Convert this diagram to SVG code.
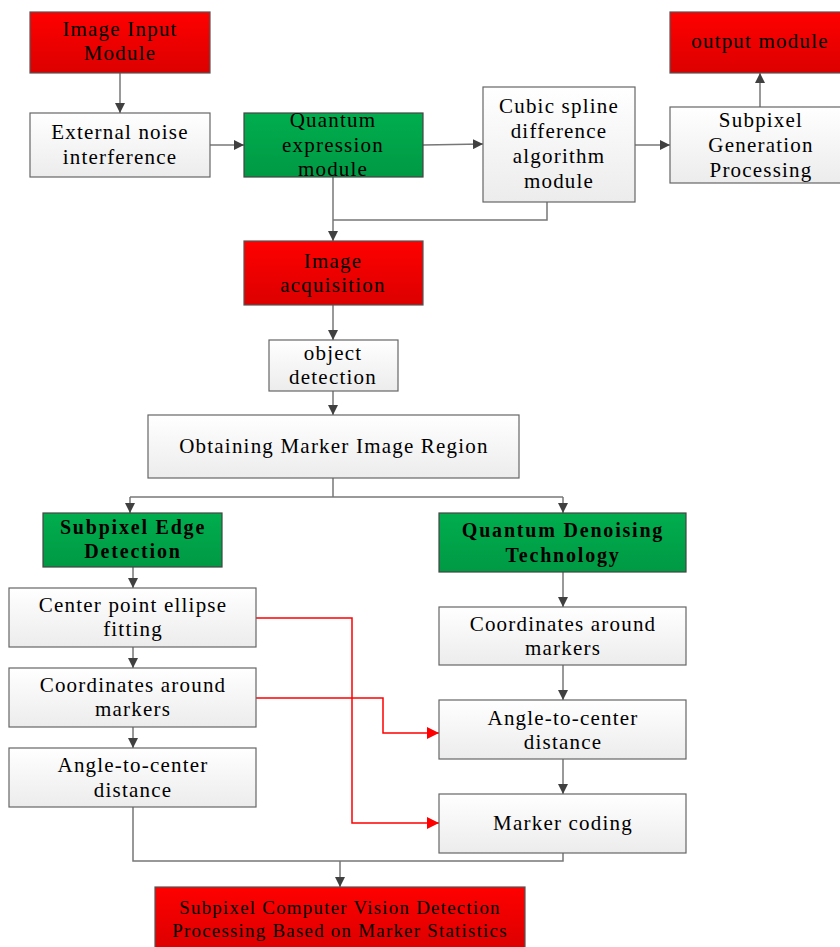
<svg xmlns="http://www.w3.org/2000/svg" width="840" height="947" viewBox="0 0 840 947">
<defs>
<linearGradient id="gRed" x1="0" y1="0" x2="0" y2="1"><stop offset="0" stop-color="#ff0000"/><stop offset="1" stop-color="#dc0000"/></linearGradient>
<linearGradient id="gGreen" x1="0" y1="0" x2="0" y2="1"><stop offset="0" stop-color="#00ae4e"/><stop offset="1" stop-color="#009944"/></linearGradient>
<linearGradient id="gGray" x1="0" y1="0" x2="0" y2="1"><stop offset="0" stop-color="#ffffff"/><stop offset="1" stop-color="#ececec"/></linearGradient>
<marker id="ah" viewBox="0 0 10 10" refX="10" refY="5" markerWidth="10" markerHeight="10" markerUnits="userSpaceOnUse" orient="auto"><path d="M0,0 L10,5 L0,10 z" fill="#404040"/></marker>
<marker id="ahr" viewBox="0 0 10 10" refX="10" refY="5" markerWidth="12" markerHeight="12" markerUnits="userSpaceOnUse" orient="auto"><path d="M0,0 L10,5 L0,10 z" fill="#ff0000"/></marker>
</defs>
<style>
.red{fill:url(#gRed);stroke:#555;stroke-width:1.2}
.green{fill:url(#gGreen);stroke:#444;stroke-width:1.2}
.gray{fill:url(#gGray);stroke:#666;stroke-width:1.2}
text{font-family:"Liberation Serif","Times New Roman",serif;font-size:21px;letter-spacing:1.2px;fill:#000;text-anchor:middle}
.b{font-weight:bold;font-size:20px;letter-spacing:1.8px}
.s{font-size:19px;letter-spacing:1.2px}
.c{fill:none;stroke:#777;stroke-width:1.5}
.cr{fill:none;stroke:#ff0000;stroke-width:1.5}
</style>
<g id="connectors">
<path class="c" d="M120,73 V113" marker-end="url(#ah)"/>
<path class="c" d="M210,145 H244" marker-end="url(#ah)"/>
<path class="c" d="M423,145 L483,144" marker-end="url(#ah)"/>
<path class="c" d="M635,145 H670" marker-end="url(#ah)"/>
<path class="c" d="M760,107 V73" marker-end="url(#ah)"/>
<path class="c" d="M333,177 V241" marker-end="url(#ah)"/>
<path class="c" d="M547,202 V220 H333"/>
<path class="c" d="M333,305 V340" marker-end="url(#ah)"/>
<path class="c" d="M333,391 V415" marker-end="url(#ah)"/>
<path class="c" d="M333,478 V497"/>
<path class="c" d="M130,497 H563"/>
<path class="c" d="M130,497 V513" marker-end="url(#ah)"/>
<path class="c" d="M563,497 V513" marker-end="url(#ah)"/>
<path class="c" d="M133,567 V588" marker-end="url(#ah)"/>
<path class="c" d="M133,647 V668" marker-end="url(#ah)"/>
<path class="c" d="M133,727 V748" marker-end="url(#ah)"/>
<path class="c" d="M563,572 V607" marker-end="url(#ah)"/>
<path class="c" d="M563,665 V700" marker-end="url(#ah)"/>
<path class="c" d="M563,759 V794" marker-end="url(#ah)"/>
<path class="c" d="M133,807 V861 H563 V853"/>
<path class="c" d="M340,861 V887" marker-end="url(#ah)"/>
<path class="cr" d="M256,618 H352 V823 H439" marker-end="url(#ahr)"/>
<path class="cr" d="M256,698 H383 V733 H439" marker-end="url(#ahr)"/>
</g>
<g id="n-input"><rect class="red" x="30" y="12" width="180" height="61"/><text x="120" y="36">Image Input</text><text x="120" y="60">Module</text></g>
<g id="n-noise"><rect class="gray" x="30" y="113" width="180" height="64"/><text x="120" y="139">External noise</text><text x="120" y="164">interference</text></g>
<g id="n-quantum"><rect class="green" x="244" y="113" width="179" height="64"/><text x="333" y="127">Quantum</text><text x="333" y="152">expression</text><text x="333" y="176">module</text></g>
<g id="n-cubic"><rect class="gray" x="483" y="87" width="152" height="115"/><text x="559" y="113">Cubic spline</text><text x="559" y="138">difference</text><text x="559" y="163">algorithm</text><text x="559" y="188">module</text></g>
<g id="n-subgen"><rect class="gray" x="670" y="107" width="172" height="76"/><text x="761" y="127">Subpixel</text><text x="761" y="152">Generation</text><text x="761" y="177">Processing</text></g>
<g id="n-output"><rect class="red" x="670" y="12" width="172" height="61"/><text x="760" y="48">output module</text></g>
<g id="n-acq"><rect class="red" x="244" y="241" width="179" height="64"/><text x="333" y="268">Image</text><text x="333" y="292">acquisition</text></g>
<g id="n-obj"><rect class="gray" x="269" y="340" width="129" height="51"/><text x="333" y="360">object</text><text x="333" y="384">detection</text></g>
<g id="n-region"><rect class="gray" x="148" y="415" width="371" height="63"/><text x="334" y="453">Obtaining Marker Image Region</text></g>
<g id="n-edge"><rect class="green" x="43" y="513" width="179" height="54"/><text class="b" x="133" y="534">Subpixel Edge</text><text class="b" x="133" y="558">Detection</text></g>
<g id="n-denoise"><rect class="green" x="439" y="513" width="247" height="59"/><text class="b" x="563" y="537">Quantum Denoising</text><text class="b" x="563" y="562">Technology</text></g>
<g id="n-ellipse"><rect class="gray" x="9" y="588" width="247" height="59"/><text x="133" y="612">Center point ellipse</text><text x="133" y="636">fitting</text></g>
<g id="n-coordL"><rect class="gray" x="9" y="668" width="247" height="59"/><text x="133" y="692">Coordinates around</text><text x="133" y="716">markers</text></g>
<g id="n-angleL"><rect class="gray" x="9" y="748" width="247" height="59"/><text x="133" y="772">Angle-to-center</text><text x="133" y="797">distance</text></g>
<g id="n-coordR"><rect class="gray" x="439" y="607" width="247" height="58"/><text x="563" y="631">Coordinates around</text><text x="563" y="655">markers</text></g>
<g id="n-angleR"><rect class="gray" x="439" y="700" width="247" height="59"/><text x="563" y="725">Angle-to-center</text><text x="563" y="749">distance</text></g>
<g id="n-coding"><rect class="gray" x="439" y="794" width="247" height="59"/><text x="563" y="830">Marker coding</text></g>
<g id="n-final"><rect class="red" x="155" y="887" width="370" height="62"/><text class="s" x="340" y="914">Subpixel Computer Vision Detection</text><text class="s" x="340" y="937">Processing Based on Marker Statistics</text></g>
</svg>
